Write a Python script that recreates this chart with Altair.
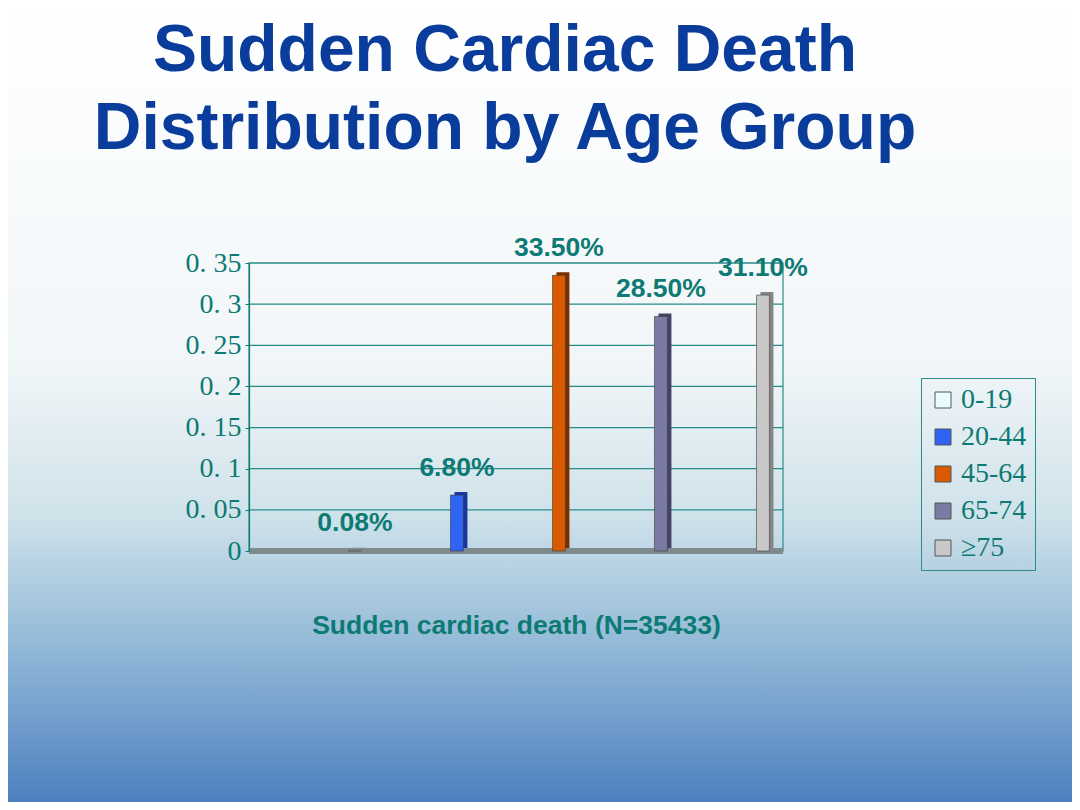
import altair as alt
import pandas as pd

# values
age_groups = ["0-19", "20-44", "45-64", "65-74", "≥75"]
shares = [0.0008, 0.068, 0.335, 0.285, 0.311]
y_ticks = [0, 0.05, 0.1, 0.15, 0.2, 0.25, 0.3, 0.35]

bar_colors = ["#e9fbff", "#2f63f4", "#d95a00", "#7a7aa2", "#c8c8c8"]
side_colors = ["#9fb9c0", "#17359a", "#7a2f00", "#444468", "#858585"]

TEAL = "#0e7a74"
LINE = "#2a8c88"
NAVY = "#0a3c9c"
W, H = 534, 288
PAD = {"left": 241, "top": 255, "right": 289, "bottom": 251}

df = pd.DataFrame({"group": age_groups, "share": shares, "side": side_colors})
ticks_df = pd.DataFrame({"tick": y_ticks})
one = pd.DataFrame({"k": [0]})

x_enc = alt.X(
    "group:N",
    sort=age_groups,
    scale=alt.Scale(paddingInner=0.873, paddingOuter=0.554, align=0.88),
    axis=alt.Axis(labels=False, ticks=False, domain=False, zindex=1,
                  title="Sudden cardiac death (N=35433)", titlePadding=61,
                  titleFont="Liberation Sans", titleFontSize=26.5,
                  titleFontWeight="bold", titleColor=TEAL),
)
y_scale = alt.Scale(domain=[0, 0.35], nice=False)
y_enc = alt.Y(
    "share:Q",
    scale=y_scale,
    axis=alt.Axis(values=y_ticks, title=None, grid=False,
                  labelExpr="datum.value == 0 ? '0' : replace(format(datum.value, '.2~f'), '.', '. ')",
                  labelFont="Liberation Serif", labelFontSize=28, labelColor=TEAL,
                  labelPadding=4, tickSize=4, tickColor=TEAL, domainColor=TEAL,
                  domainWidth=1.2, zindex=1),
)

# slide background gradient
background = alt.Chart(one).mark_rect(
    fill=alt.Gradient(
        gradient="linear", x1=0, x2=0, y1=0, y2=1,
        stops=[
            alt.GradientStop(offset=0, color="#ffffff"),
            alt.GradientStop(offset=0.45, color="#f1f6f8"),
            alt.GradientStop(offset=0.64, color="#cfe2ea"),
            alt.GradientStop(offset=0.8, color="#93bad8"),
            alt.GradientStop(offset=1, color="#4e80c0"),
        ],
    )
).encode(
    x=alt.value(-PAD["left"]), x2=alt.value(W + PAD["right"]),
    y=alt.value(-PAD["top"]), y2=alt.value(H + PAD["bottom"]),
)

# slide title
title = alt.Chart(one).mark_text(
    font="Liberation Sans", fontSize=66, fontWeight="bold", color=NAVY,
    align="center", baseline="alphabetic", lineBreak="\n", lineHeight=78,
).encode(
    x=alt.value(256), y=alt.value(-192),
    text=alt.value("Sudden Cardiac Death\nDistribution by Age Group"),
)

grid = alt.Chart(ticks_df).mark_rule(color=LINE, strokeWidth=1.2).encode(
    y=alt.Y("tick:Q", scale=y_scale)
)

frame = alt.Chart(one).mark_rect(fill=None, stroke=LINE, strokeWidth=1.2).encode(
    x=alt.value(0), x2=alt.value(W), y=alt.value(0), y2=alt.value(H)
)

base = alt.Chart(df)

floor = base.mark_rule(color="#7f8a8c", strokeWidth=5).encode(y=alt.datum(0))

side = base.mark_bar(xOffset=4, yOffset=-3, x2Offset=4, y2Offset=-3).encode(
    x=x_enc, y=y_enc, color=alt.Color("side:N", scale=None)
)

bars = base.mark_bar(stroke="#3a3a3a", strokeWidth=0.6).encode(
    x=x_enc,
    y=y_enc,
    color=alt.Color(
        "group:N", sort=age_groups,
        scale=alt.Scale(domain=age_groups, range=bar_colors),
        legend=alt.Legend(
            title=None, orient="none", legendX=672, legendY=115,
            symbolType="square", symbolSize=256, symbolStrokeColor="#555555",
            symbolStrokeWidth=1, symbolOpacity=1,
            labelFont="Liberation Serif", labelFontSize=28, labelColor=TEAL,
            rowPadding=9, padding=8, strokeColor=LINE,
        ),
    ),
)

labels = base.mark_text(
    font="Liberation Sans", fontSize=26.5, fontWeight="bold", color=TEAL,
    baseline="middle", dy=-27,
).encode(x=x_enc, y=y_enc, text=alt.Text("share:Q", format=".2%"))

chart = (
    alt.layer(background, title, grid, frame, floor, side, bars, labels)
    .properties(
        width=W, height=H,
        autosize=alt.AutoSizeParams(type="none"),
        padding=PAD,
    )
    .configure_view(stroke=None)
)

chart.save("out.html", embed_options={"renderer": "svg", "actions": False})
